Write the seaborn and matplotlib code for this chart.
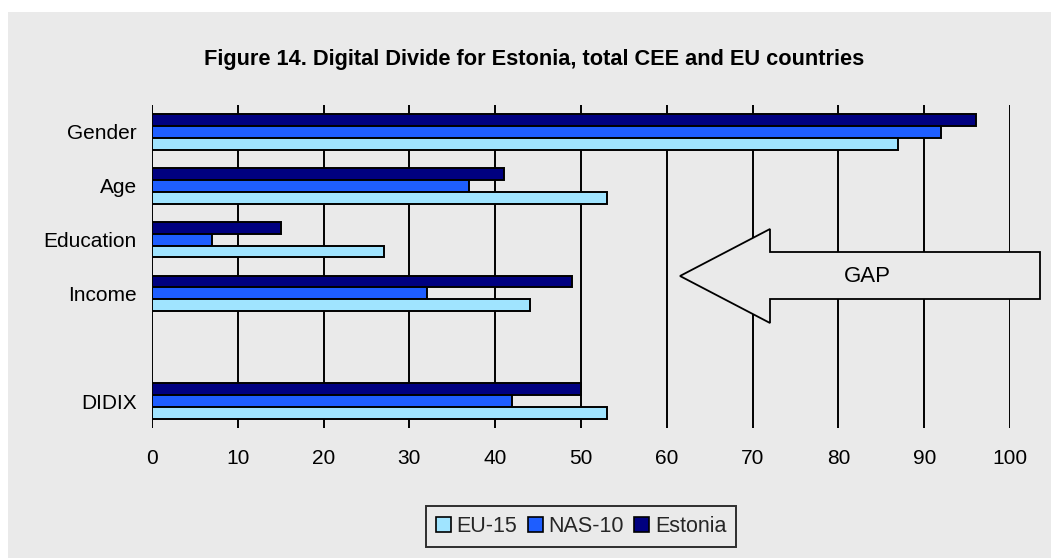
import numpy as np
import pandas as pd
import matplotlib
matplotlib.use("Agg")
import matplotlib.pyplot as plt
from matplotlib.patches import Polygon, Rectangle
import seaborn as sns

# Digital divide indicators (blank slot separates the composite DIDIX index)
categories = ["Gender", "Age", "Education", "Income", " ", "DIDIX"]
series = ["Estonia", "NAS-10", "EU-15"]
estonia = [96, 41, 15, 49, 50]
nas10 = [92, 37, 7, 32, 42]
eu15 = [87, 53, 27, 44, 53]
value_cats = ["Gender", "Age", "Education", "Income", "DIDIX"]
x_ticks = [0, 10, 20, 30, 40, 50, 60, 70, 80, 90, 100]

colors = {"Estonia": "#000080", "NAS-10": "#1E5EFF", "EU-15": "#A0E4FF"}
bg = "#EAEAEA"

rows = []
for name, vals in zip(series, [estonia, nas10, eu15]):
    for c, v in zip(value_cats, vals):
        rows.append({"category": c, "series": name, "value": v})
df = pd.DataFrame(rows)

sns.set_theme(style="white")
plt.rcParams["font.family"] = ["Liberation Sans", "DejaVu Sans"]

W, H = 1051, 558
fig = plt.figure(figsize=(W / 100, H / 100), dpi=100)
fig.patch.set_facecolor("white")

def fx(px):
    return px / W

def fy(py):
    return 1 - py / H

# grey chart area
fig.add_artist(Rectangle((fx(8), 0), 1 - fx(8), fy(12), transform=fig.transFigure,
                         facecolor=bg, edgecolor="none", zorder=-10))

ax = fig.add_axes([fx(152), fy(428), fx(1010) - fx(152), fy(105) - fy(428)])
ax.set_facecolor("none")

sns.barplot(data=df, y="category", x="value", hue="series", order=categories,
            hue_order=series, palette=colors, orient="h", width=0.66,
            edgecolor="black", linewidth=1.4, saturation=1, ax=ax, legend=False,
            zorder=3)

ax.set_xlim(0, 100)
ax.set_ylim(len(categories) - 0.5, -0.5)
ax.set_xticks(x_ticks)
ax.xaxis.grid(True, color="black", linewidth=1.4)
ax.yaxis.grid(False)
ax.set_axisbelow(True)
for s in ax.spines.values():
    s.set_visible(False)
ax.tick_params(axis="both", length=0, labelsize=15, colors="black")
ax.tick_params(axis="x", pad=15)
ax.tick_params(axis="y", pad=11)
ax.set_xlabel("")
ax.set_ylabel("")

# title
fig.text(fx(534), fy(60), "Figure 14. Digital Divide for Estonia, total CEE and EU countries",
         ha="center", va="center", fontsize=15.7, fontweight="bold", color="black")

# GAP arrow pointing left
pts = [(680, 276), (770, 229), (770, 252), (1040, 252), (1040, 299),
       (770, 299), (770, 323)]
fig.add_artist(Polygon([(fx(x), fy(y)) for x, y in pts], closed=True,
                       transform=fig.transFigure, facecolor=bg,
                       edgecolor="black", linewidth=1.3, zorder=5))
fig.text(fx(867), fy(276), "GAP", ha="center", va="center", fontsize=16,
         color="black", zorder=6)

# legend in EU-15, NAS-10, Estonia order
handles = [Rectangle((0, 0), 1, 1, facecolor=colors[n], edgecolor="black", linewidth=1.2)
           for n in ["EU-15", "NAS-10", "Estonia"]]
leg = fig.legend(handles, ["EU-15", "NAS-10", "Estonia"], loc="center",
                 bbox_to_anchor=(fx(581), fy(526.5)), ncol=3, frameon=True,
                 fontsize=15.5, handlelength=0.7, handleheight=0.7,
                 handletextpad=0.25, columnspacing=0.5, borderpad=0.45,
                 borderaxespad=0, fancybox=False)
leg.get_frame().set_edgecolor("black")
leg.get_frame().set_linewidth(1.4)
leg.get_frame().set_facecolor(bg)

fig.savefig("out.png", dpi=100)
